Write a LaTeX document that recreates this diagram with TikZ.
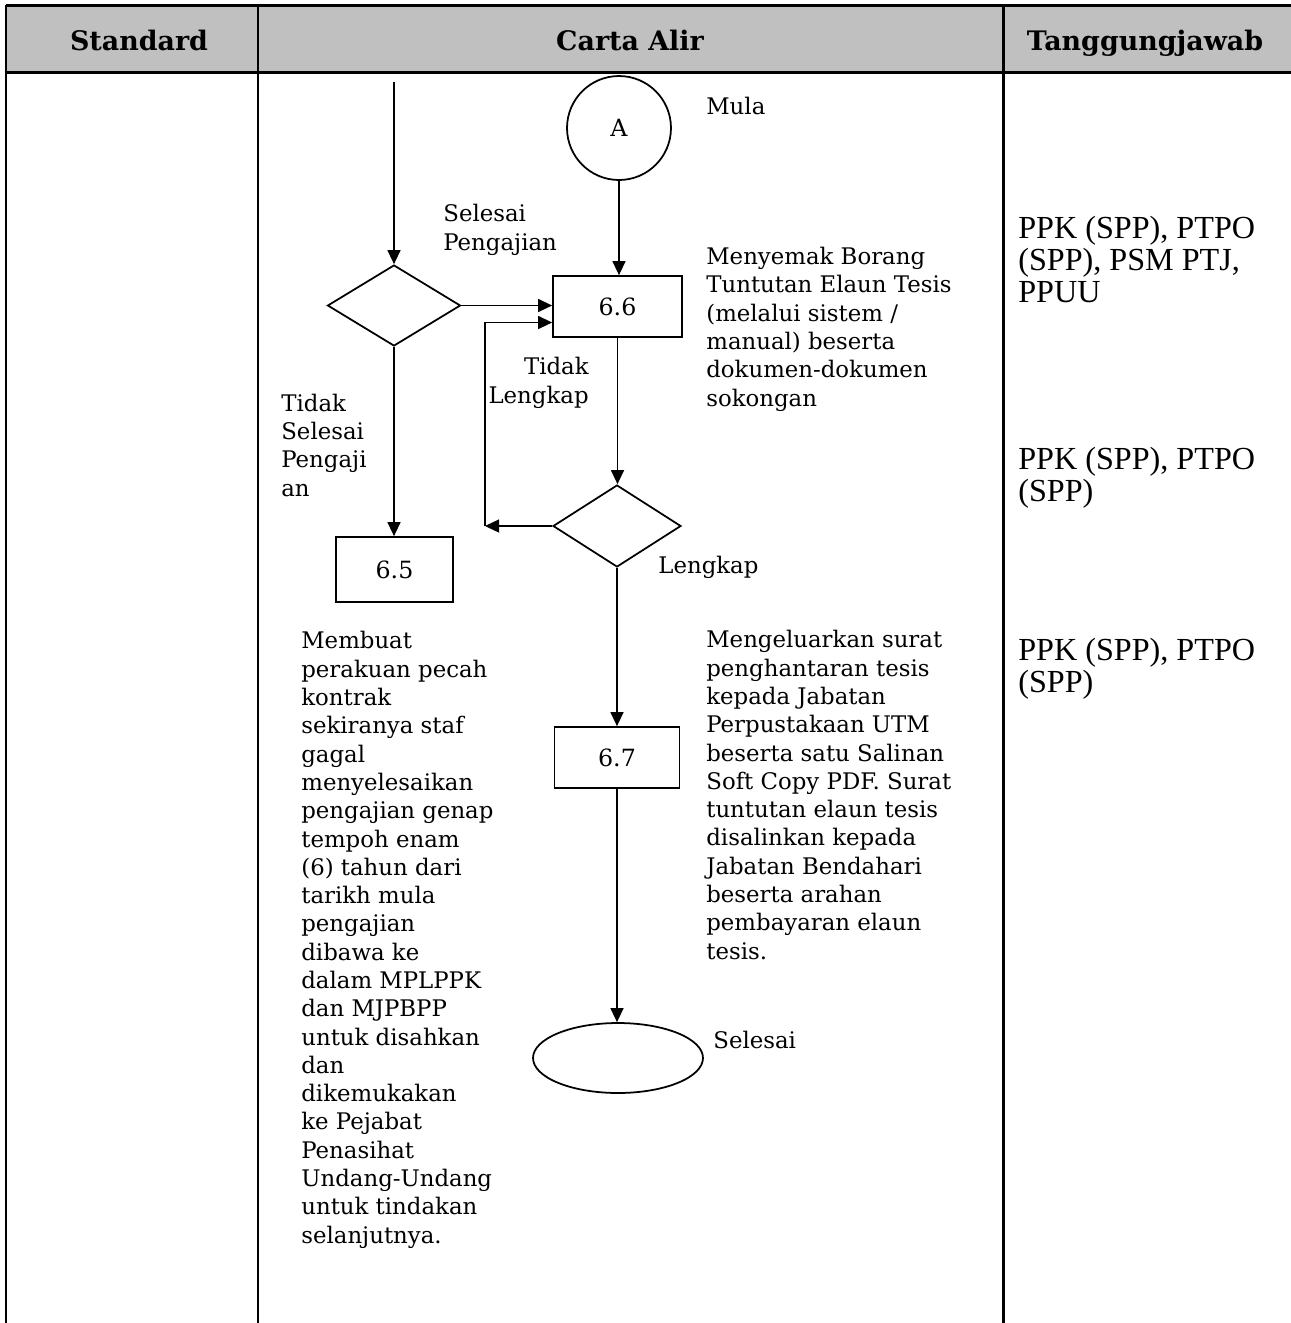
\documentclass[tikz,border=0pt]{standalone}
\usepackage{fontspec}
\setmainfont{DejaVu Serif}
\newfontfamily\tjfont{Liberation Serif}
\usepackage{tikz}
\usetikzlibrary{shapes.geometric, arrows.meta, positioning, calc}
\definecolor{hdrgray}{RGB}{192,192,192}
\definecolor{mydark}{RGB}{0,0,0}
\tikzset{
  procbox/.style={rectangle, draw=mydark, line width=1pt,
    minimum width=2.58cm, minimum height=1.22cm, inner sep=0pt,
    font=\fontsize{13.5}{15}\selectfont},
  decision/.style={diamond, draw=mydark, line width=1pt, inner sep=0pt,
    minimum width=2.66cm, minimum height=1.62cm},
  connector/.style={circle, draw=mydark, line width=1pt,
    minimum size=2.08cm, inner sep=0pt, font=\fontsize{13.5}{15}\selectfont},
  terminal/.style={ellipse, draw=mydark, line width=1pt,
    minimum width=3.4cm, minimum height=1.4cm, inner sep=0pt},
  note/.style={align=left, inner sep=0pt, anchor=base west,
    font=\fontsize{13}{16.1}\selectfont},
  tjnote/.style={align=left, inner sep=0pt, anchor=base west,
    font=\tjfont\fontsize{18.3}{18.2}\selectfont},
  hdr/.style={inner sep=0pt, anchor=base, font=\bfseries\fontsize{15.3}{18}\selectfont},
  arrow/.style={-{Triangle[length=0.28cm, width=0.26cm]}, line width=0.75pt, color=mydark},
  rule/.style={line width=1.7pt, color=mydark}
}

\begin{document}
\begin{tikzpicture}[x=0.02cm, y=-0.02cm]
  \useasboundingbox (0,0) rectangle (1291,1323);
  % Table frame
  \fill[hdrgray] (6,5) rectangle (1291,72);
  \draw[rule] (6,5) -- (1291,5);
  \draw[rule] (6,72) -- (1291,72);
  \draw[rule] (6,5) -- (6,1323);
  \draw[rule] (258,5) -- (258,1323);
  \draw[rule] (1003,5) -- (1003,1323);
  % Column headers
  \node[hdr] (hstd) at (139,50) {Standard};
  \node[hdr] (hcarta) at (630,50) {Carta Alir};
  \node[hdr] (htj) at (1145,50) {Tanggungjawab};

  % Flow shapes
  \node[connector] (mula) at (619,128) {A};
  \node[procbox] (s66) at (617.5,306.5) {6.6};
  \node[decision] (dsel) at (394,305.5) {};
  \node[decision, minimum width=2.56cm, minimum height=1.64cm] (dlkp) at (617,526) {};
  \node[procbox, minimum width=2.34cm, minimum height=1.3cm] (s65) at (394.5,569.5) {6.5};
  \node[procbox, minimum width=2.5cm] (s67) at (617,757.5) {6.7};
  \node[terminal] (tamat) at (618,1058) {};

  % Connectors
  \coordinate (masuk) at (394,82);
  \coordinate (balik) at (485,526);
  \draw[arrow] (masuk) -- (dsel.north);
  \draw[arrow] (dsel.east) -- (dsel.east -| s66.west);
  \draw[arrow] (mula.south) -- (mula.south |- s66.north);
  \draw[arrow] (s66.south) -- (s66.south |- dlkp.north);
  \draw[arrow] (dlkp.west) -- (balik);
  \draw[arrow] (balik) |- ($(s66.west)+(0,16)$);
  \draw[arrow] (dsel.south) -- (dsel.south |- s65.north);
  \draw[arrow] (dlkp.south) -- (s67.north);
  \draw[arrow] (s67.south) -- (s67.south |- tamat.north);

  % Labels (anchored at the baseline of the last line)
  \node[note] (lmula) at (706,114) {Mula};
  \node[note] (lsel) at (443,250) {Selesai\\Pengajian};
  \node[note] (l66) at (706,406) {Menyemak Borang\\Tuntutan Elaun Tesis\\(melalui sistem /\\manual) beserta\\dokumen-dokumen\\sokongan};
  \node[note, anchor=base east, align=right] (ltl) at (589,403) {Tidak\\Lengkap};
  \node[note] (ltsp) at (281,496) {Tidak\\Selesai\\Pengaji\\an};
  \node[note] (llkp) at (658,573) {Lengkap};
  \node[note] (l65) at (301,1243) {Membuat\\perakuan pecah\\kontrak\\sekiranya staf\\gagal\\menyelesaikan\\pengajian genap\\tempoh enam\\(6) tahun dari\\tarikh mula\\pengajian\\dibawa ke\\dalam MPLPPK\\dan MJPBPP\\untuk disahkan\\dan\\dikemukakan\\ke Pejabat\\Penasihat\\Undang-Undang\\untuk tindakan\\selanjutnya.};
  \node[note] (l67) at (706,959) {Mengeluarkan surat\\penghantaran tesis\\kepada Jabatan\\Perpustakaan UTM\\beserta satu Salinan\\Soft Copy PDF. Surat\\tuntutan elaun tesis\\disalinkan kepada\\Jabatan Bendahari\\beserta arahan\\pembayaran elaun\\tesis.};
  \node[note] (ltamat) at (713,1048) {Selesai};

  % Tanggungjawab column
  \node[tjnote] (tj1) at (1018,302) {PPK (SPP), PTPO\\(SPP), PSM PTJ,\\PPUU};
  \node[tjnote] (tj2) at (1018,501) {PPK (SPP), PTPO\\(SPP)};
  \node[tjnote] (tj3) at (1018,692) {PPK (SPP), PTPO\\(SPP)};
\end{tikzpicture}
\end{document}
